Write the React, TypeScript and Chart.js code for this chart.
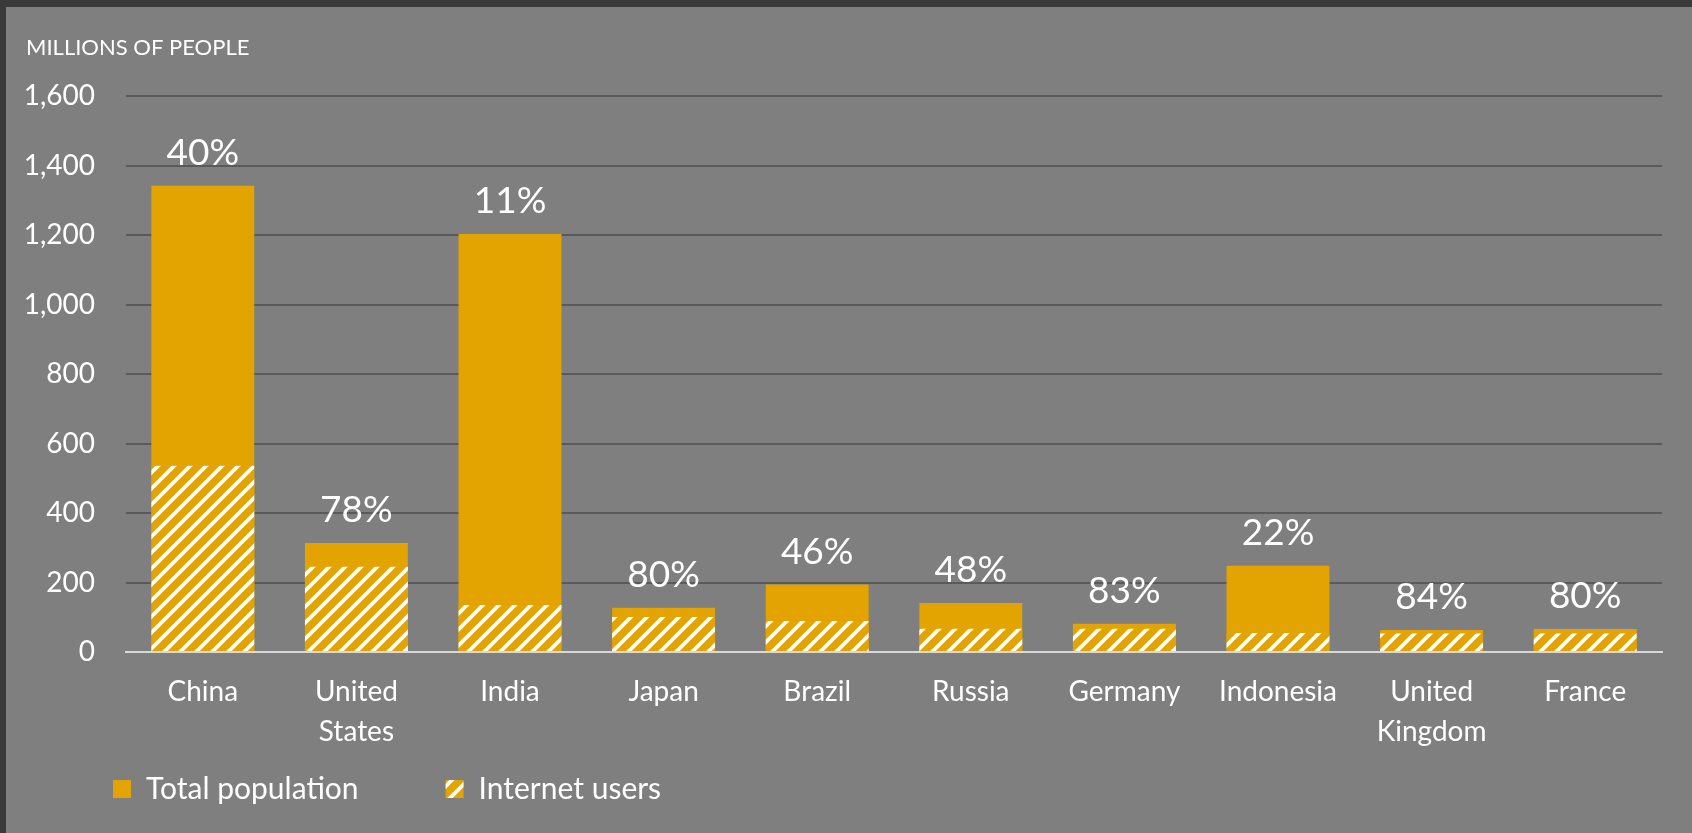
import React, { useEffect, useRef } from "react";
import { Chart, registerables } from "chart.js";

Chart.register(...registerables);

const categories: (string | string[])[] = [
  "China",
  ["United", "States"],
  "India",
  "Japan",
  "Brazil",
  "Russia",
  "Germany",
  "Indonesia",
  ["United", "Kingdom"],
  "France",
];
const totalPopulation = [1342, 314, 1203, 127, 194, 141, 81, 248, 63, 66];
const internetUsers = [536, 245, 135, 101, 89, 67, 67, 55, 53, 53];
const shareLabels = ["40%", "78%", "11%", "80%", "46%", "48%", "83%", "22%", "84%", "80%"];
const yTicks = [0, 200, 400, 600, 800, 1000, 1200, 1400, 1600];

const GOLD = "#E3A300";
const PANEL = "#7F7F7F";
const FRAME = "#3A3A3A";
const GRID = "#5A5A5A";
const AXIS = "#D9D9D9";
const FONT = "Lato, 'Open Sans', sans-serif";

function makeHatch(): CanvasPattern | string {
  const c = document.createElement("canvas");
  c.width = 16;
  c.height = 16;
  const g = c.getContext("2d");
  if (!g) return GOLD;
  g.fillStyle = GOLD;
  g.fillRect(0, 0, 16, 16);
  g.strokeStyle = "#FFFFFF";
  g.lineWidth = 3.8;
  g.beginPath();
  g.moveTo(-4, 20);
  g.lineTo(20, -4);
  g.moveTo(-4, 4);
  g.lineTo(4, -4);
  g.moveTo(12, 20);
  g.lineTo(20, 12);
  g.stroke();
  return g.createPattern(c, "repeat") || GOLD;
}

const backgroundPlugin = {
  id: "panelBackground",
  beforeDraw(chart: any) {
    const { ctx, width, height } = chart;
    ctx.save();
    ctx.fillStyle = FRAME;
    ctx.fillRect(0, 0, width, height);
    ctx.fillStyle = PANEL;
    ctx.fillRect(6, 7, width - 6, height - 7);
    ctx.restore();
  },
};

// let the category labels run below the (deliberately short) x-axis box
const labelRoomPlugin = {
  id: "labelRoom",
  afterLayout(chart: any) {
    const xs = chart.scales.x;
    if (xs) xs.bottom = chart.height;
  },
};

const shareLabelPlugin = {
  id: "shareLabels",
  afterDatasetsDraw(chart: any) {
    const meta = chart.getDatasetMeta(0);
    const { ctx } = chart;
    ctx.save();
    ctx.fillStyle = "#FFFFFF";
    ctx.font = `37px ${FONT}`;
    ctx.textAlign = "center";
    ctx.textBaseline = "alphabetic";
    meta.data.forEach((bar: any, i: number) => {
      ctx.fillText(shareLabels[i], bar.x, bar.y - 21);
    });
    ctx.restore();
  },
};

export default function App() {
  const canvasRef = useRef<HTMLCanvasElement | null>(null);

  useEffect(() => {
    if (!canvasRef.current) return;
    const hatch = makeHatch();
    const chart = new Chart(canvasRef.current, {
      type: "bar",
      data: {
        labels: categories as any,
        datasets: [
          {
            label: "Total population",
            data: totalPopulation,
            backgroundColor: GOLD,
            borderWidth: 0,
            grouped: false,
            order: 2,
            categoryPercentage: 1,
            barPercentage: 0.67,
          } as any,
          {
            label: "Internet users",
            data: internetUsers,
            backgroundColor: hatch,
            borderWidth: 0,
            grouped: false,
            order: 1,
            categoryPercentage: 1,
            barPercentage: 0.67,
          } as any,
        ],
      },
      options: {
        animation: false,
        responsive: true,
        maintainAspectRatio: false,
        layout: { padding: { left: 26, right: 30, top: 0, bottom: 19 } },
        plugins: {
          tooltip: { enabled: false },
          title: {
            display: true,
            text: "MILLIONS OF PEOPLE",
            align: "start",
            color: "#FFFFFF",
            font: { family: FONT, size: 22, weight: "normal" },
            padding: { top: 35, bottom: 34.6 },
          },
          legend: {
            display: true,
            position: "bottom",
            align: "start",
            labels: {
              color: "#FFFFFF",
              font: { family: FONT, size: 30 },
              boxWidth: 18,
              boxHeight: 18,
              padding: 87,
              sort: (a: any, b: any) => a.datasetIndex - b.datasetIndex,
            },
          },
        },
        scales: {
          x: {
            grid: { display: true, drawOnChartArea: false, drawTicks: false },
            border: { display: true, color: AXIS, width: 2, z: 1 },
            ticks: {
              color: "#FFFFFF",
              font: { family: FONT, size: 28, lineHeight: 1.43 },
              padding: 20,
              maxRotation: 0,
              autoSkip: false,
            },
            afterFit(scale: any) {
              scale.height = 35;
            },
          },
          y: {
            min: 0,
            max: 1600,
            afterBuildTicks(scale: any) {
              scale.ticks = yTicks.map((v) => ({ value: v }));
            },
            grid: {
              color: (c: any) => (c.tick && c.tick.value === 0 ? "rgba(0,0,0,0)" : GRID),
              lineWidth: 2,
              drawTicks: false,
            },
            border: { display: false },
            ticks: {
              color: "#FFFFFF",
              font: { family: FONT, size: 28 },
              padding: 31,
              callback: (v: any) => Number(v).toLocaleString("en-US"),
            },
            afterFit(scale: any) {
              scale.width = 100;
            },
          },
        },
      },
      plugins: [backgroundPlugin, labelRoomPlugin, shareLabelPlugin],
    });
    return () => chart.destroy();
  }, []);

  return (
    <>
      <style>{`html,body{margin:0;padding:0;overflow:hidden;background:${FRAME};}`}</style>
      <div style={{ position: "relative", width: 1692, height: 833 }}>
        <canvas ref={canvasRef} />
      </div>
    </>
  );
}
